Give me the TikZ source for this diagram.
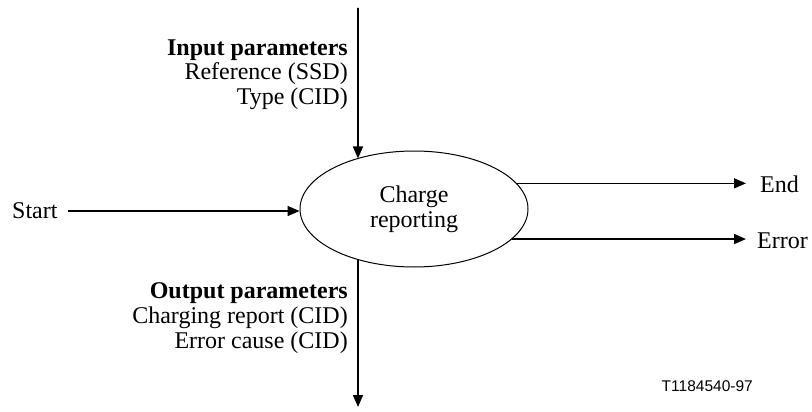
\documentclass[tikz,border=0pt]{standalone}
\usepackage{fontspec}
\setmainfont{Liberation Serif}
\newfontfamily\arialfont{Liberation Sans}
\usetikzlibrary{arrows.meta,shapes.geometric,intersections}
\begin{document}
\begin{tikzpicture}[x=1pt,y=-1pt,
  txt/.style={inner sep=0pt,font=\fontsize{24}{25}\selectfont},
  flow/.style={line width=1.6pt,-{Triangle[length=12pt,width=10pt]}},
  proc/.style={draw,line width=1pt,ellipse,minimum width=228pt,minimum height=116pt,inner sep=0pt,align=center,font=\fontsize{24}{25}\selectfont}]
\useasboundingbox (0,0) rectangle (812,412);
\node[proc,name path=ell] (cr) at (414,209) {Charge\\reporting};
\coordinate (topin) at (358,8);
\coordinate (botout) at (358,407);
\path[name path=vline] (topin) -- (botout);
\path[name intersections={of=ell and vline,sort by=vline}]
  (intersection-1) coordinate (topx) (intersection-2) coordinate (botx);
\node[txt,anchor=base east,align=right] (inp) at (348,105) {\textbf{Input parameters}\\Reference (SSD)\\Type (CID)};
\node[txt,anchor=base east,align=right] (outp) at (348,348) {\textbf{Output parameters}\\Charging report (CID)\\Error cause (CID)};
\node[txt,anchor=west] (start) at (12,211) {Start};
\node[txt,anchor=west] (endl) at (760,184) {End};
\node[txt,anchor=west] (errl) at (757,241) {Error};
\node[inner sep=0pt,anchor=east,font=\arialfont\fontsize{15.5}{17}\selectfont] (code) at (753,386) {T1184540-97};
\draw[flow] (topin) -- (topx);
\draw[flow] (botx) -- (botout);
\draw[flow] ([xshift=10pt]start.east) -- (start.east -| cr.west);
\draw[flow] (cr.14.4) -- ([xshift=-14pt]cr.14.4 -| endl.west);
\draw[flow] (cr.-17.2) -- ([xshift=-11pt]cr.-17.2 -| errl.west);
\end{tikzpicture}
\end{document}
